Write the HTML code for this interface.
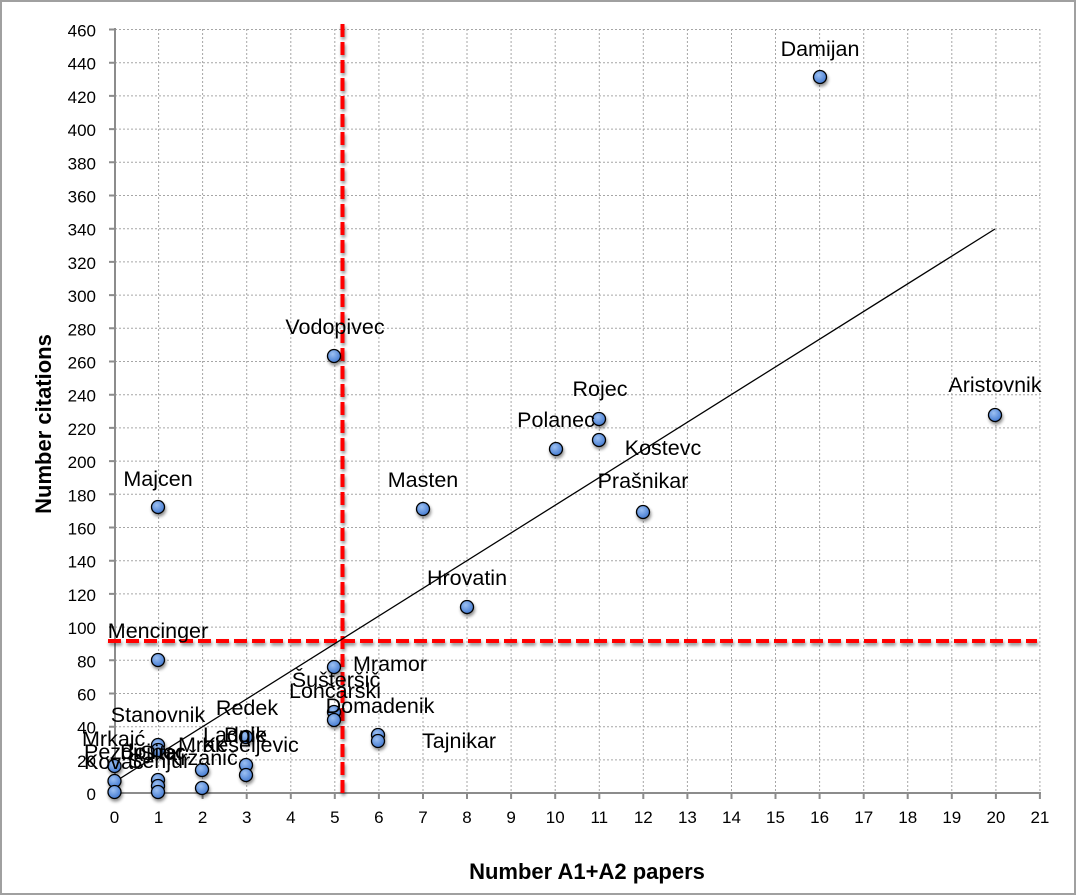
<!DOCTYPE html>
<html><head><meta charset="utf-8"><style>
html,body{margin:0;padding:0;background:#fff;}
svg{display:block;}
text{font-family:"Liberation Sans",sans-serif;fill:#000;}
.t{font-size:17px;}
.l{font-size:21.5px;}
.ttl{font-size:22px;font-weight:bold;}
</style></head><body>
<svg width="1077" height="896" viewBox="0 0 1077 896" xmlns="http://www.w3.org/2000/svg">
<defs>
<radialGradient id="g" cx="0.4" cy="0.35" r="0.7">
<stop offset="0" stop-color="#9cc0f2"/>
<stop offset="1" stop-color="#3f77d0"/>
</radialGradient>
<filter id="sh" x="-50%" y="-50%" width="200%" height="200%">
<feGaussianBlur in="SourceAlpha" stdDeviation="1.5"/>
<feOffset dx="1" dy="2.5" result="o"/>
<feComponentTransfer><feFuncA type="linear" slope="0.45"/></feComponentTransfer>
<feMerge><feMergeNode/><feMergeNode in="SourceGraphic"/></feMerge>
</filter>
</defs>
<rect x="1" y="1" width="1074" height="893" fill="#fff" stroke="#a0a0a0" stroke-width="2"/>

<!-- grid -->
<g stroke="#a6a6a6" stroke-width="1" stroke-dasharray="2,2" fill="none">
<path d="M115 29.5H1040M115 62.7H1040M115 95.9H1040M115 129.1H1040M115 162.3H1040M115 195.5H1040M115 228.7H1040M115 261.9H1040M115 295.1H1040M115 328.3H1040M115 361.5H1040M115 394.7H1040M115 427.9H1040M115 461.1H1040M115 494.3H1040M115 527.5H1040M115 560.7H1040M115 593.9H1040M115 627.1H1040M115 660.3H1040M115 693.5H1040M115 726.7H1040M115 759.9H1040"/>
<path d="M158.6 29V793M202.6 29V793M246.7 29V793M290.8 29V793M334.8 29V793M378.9 29V793M423 29V793M467 29V793M511.1 29V793M555.2 29V793M599.3 29V793M643.3 29V793M687.4 29V793M731.5 29V793M775.5 29V793M819.6 29V793M863.7 29V793M907.7 29V793M951.8 29V793M995.9 29V793M1039.9 29V793"/>
</g>

<!-- axes -->
<g stroke="#8c8c8c" stroke-width="2" fill="none">
<path d="M115 28V794M114 793H1041"/>
<path d="M109 29.5H115M109 62.7H115M109 95.9H115M109 129.1H115M109 162.3H115M109 195.5H115M109 228.7H115M109 261.9H115M109 295.1H115M109 328.3H115M109 361.5H115M109 394.7H115M109 427.9H115M109 461.1H115M109 494.3H115M109 527.5H115M109 560.7H115M109 593.9H115M109 627.1H115M109 660.3H115M109 693.5H115M109 726.7H115M109 759.9H115M109 793H115"/>
<path d="M114.5 793V799M158.6 793V799M202.6 793V799M246.7 793V799M290.8 793V799M334.8 793V799M378.9 793V799M423 793V799M467 793V799M511.1 793V799M555.2 793V799M599.3 793V799M643.3 793V799M687.4 793V799M731.5 793V799M775.5 793V799M819.6 793V799M863.7 793V799M907.7 793V799M951.8 793V799M995.9 793V799M1039.9 793V799"/>
</g>

<!-- y tick labels -->
<g class="t" text-anchor="end">
<text x="96" y="36.5">460</text><text x="96" y="69.7">440</text><text x="96" y="102.9">420</text><text x="96" y="136.1">400</text><text x="96" y="169.3">380</text><text x="96" y="202.5">360</text><text x="96" y="235.7">340</text><text x="96" y="268.9">320</text><text x="96" y="302.1">300</text><text x="96" y="335.3">280</text><text x="96" y="368.5">260</text><text x="96" y="401.7">240</text><text x="96" y="434.9">220</text><text x="96" y="468.1">200</text><text x="96" y="501.3">180</text><text x="96" y="534.5">160</text><text x="96" y="567.7">140</text><text x="96" y="600.9">120</text><text x="96" y="634.1">100</text><text x="96" y="667.3">80</text><text x="96" y="700.5">60</text><text x="96" y="733.7">40</text><text x="96" y="766.9">20</text><text x="96" y="800">0</text>
</g>
<!-- x tick labels -->
<g class="t" text-anchor="middle">
<text x="114.5" y="823">0</text><text x="158.6" y="823">1</text><text x="202.6" y="823">2</text><text x="246.7" y="823">3</text><text x="290.8" y="823">4</text><text x="334.8" y="823">5</text><text x="378.9" y="823">6</text><text x="423" y="823">7</text><text x="467" y="823">8</text><text x="511.1" y="823">9</text><text x="555.2" y="823">10</text><text x="599.3" y="823">11</text><text x="643.3" y="823">12</text><text x="687.4" y="823">13</text><text x="731.5" y="823">14</text><text x="775.5" y="823">15</text><text x="819.6" y="823">16</text><text x="863.7" y="823">17</text><text x="907.7" y="823">18</text><text x="951.8" y="823">19</text><text x="995.9" y="823">20</text><text x="1039.9" y="823">21</text>
</g>

<!-- axis titles -->
<text class="ttl" x="587" y="879" text-anchor="middle">Number A1+A2 papers</text>
<text class="ttl" transform="translate(51,424) rotate(-90)" text-anchor="middle">Number citations</text>

<!-- red dashed lines -->
<g stroke="#ff0000" stroke-width="4" stroke-dasharray="13,5" fill="none" filter="url(#sh)">
<path d="M342.5 24V795"/>
<path d="M108 641H1037"/>
</g>

<!-- trend line -->
<path d="M114.5 782L995 229" stroke="#000" stroke-width="1.3" fill="none"/>

<!-- points -->
<g fill="url(#g)" stroke="#000" stroke-width="1.3" filter="url(#sh)">
<circle cx="820" cy="77" r="6.5"/>
<circle cx="995" cy="415" r="6.5"/>
<circle cx="334" cy="356" r="6.5"/>
<circle cx="599" cy="419" r="6.5"/>
<circle cx="599" cy="440" r="6.5"/>
<circle cx="556" cy="449" r="6.5"/>
<circle cx="423" cy="509" r="6.5"/>
<circle cx="643" cy="512" r="6.5"/>
<circle cx="158" cy="507" r="6.5"/>
<circle cx="467" cy="607" r="6.5"/>
<circle cx="158" cy="660" r="6.5"/>
<circle cx="334" cy="667" r="6.5"/>
<circle cx="334" cy="712" r="6.5"/>
<circle cx="334" cy="720" r="6.5"/>
<circle cx="378" cy="735" r="6.5"/>
<circle cx="378" cy="741" r="6.5"/>
<circle cx="246" cy="737" r="6.5"/>
<circle cx="246" cy="765" r="6.5"/>
<circle cx="246" cy="775" r="6.5"/>
<circle cx="202" cy="770" r="6.5"/>
<circle cx="202" cy="788" r="6.5"/>
<circle cx="158" cy="745" r="6.5"/>
<circle cx="158" cy="750" r="6.5"/>
<circle cx="158" cy="780" r="6.5"/>
<circle cx="158" cy="786" r="6.5"/>
<circle cx="158" cy="792" r="6.5"/>
<circle cx="114.5" cy="766" r="6.5"/>
<circle cx="114.5" cy="781" r="6.5"/>
<circle cx="114.5" cy="792" r="6.5"/>
</g>

<!-- labels -->
<g class="l">
<text x="820" y="56" text-anchor="middle">Damijan</text>
<text x="995" y="392" text-anchor="middle">Aristovnik</text>
<text x="335" y="334" text-anchor="middle">Vodopivec</text>
<text x="600" y="396" text-anchor="middle">Rojec</text>
<text x="556" y="427" text-anchor="middle">Polanec</text>
<text x="663" y="455" text-anchor="middle">Kostevc</text>
<text x="643" y="488" text-anchor="middle">Prašnikar</text>
<text x="423" y="487" text-anchor="middle">Masten</text>
<text x="158" y="486" text-anchor="middle">Majcen</text>
<text x="467" y="585" text-anchor="middle">Hrovatin</text>
<text x="158" y="638" text-anchor="middle">Mencinger</text>
<text x="353" y="671">Mramor</text>
<text x="336" y="687" text-anchor="middle">Šušteršič</text>
<text x="335" y="698" text-anchor="middle">Lončarski</text>
<text x="380" y="713" text-anchor="middle">Domadenik</text>
<text x="422" y="748">Tajnikar</text>
<text x="247" y="715" text-anchor="middle">Redek</text>
<text x="158" y="722" text-anchor="middle">Stanovnik</text>
<text x="82" y="746">Mrkajć</text>
<text x="84" y="759">Pezdir</text>
<text x="120" y="759">Bojnec</text>
<text x="140" y="760">Sitar</text>
<text x="84" y="769">Kovač</text>
<text x="128" y="768">Senjur</text>
<text x="166" y="765">Kržanič</text>
<text x="178" y="752">Mrak</text>
<text x="202" y="752">Keseljevic</text>
<text x="203" y="742">Ladnik</text>
<text x="224" y="742">Bole</text>
</g>
</svg>
</body></html>
